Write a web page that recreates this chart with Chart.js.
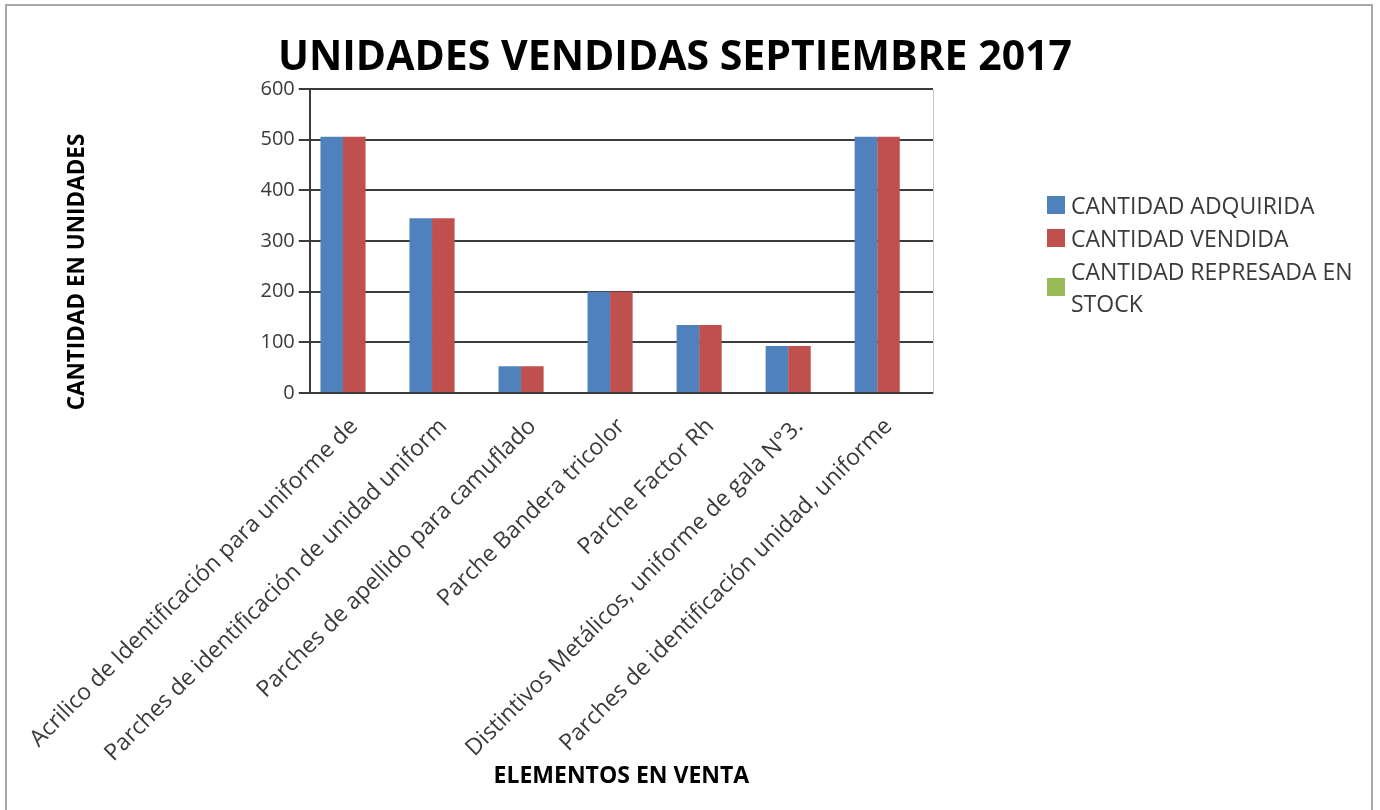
<!DOCTYPE html>
<html>
<head>
<meta charset="utf-8">
<script src="https://cdn.jsdelivr.net/npm/chart.js@4.4.0/dist/chart.umd.min.js"></script>
<style>
  html, body { margin: 0; padding: 0; background: #fff; }
  #wrap { position: relative; width: 1380px; height: 810px; overflow: hidden; font-family: 'Open Sans', sans-serif; }
  #frame { position: absolute; left: 5px; top: 4px; width: 1364px; height: 830px; border: 2px solid #a8a8a8; border-bottom: none; }
  #chart { position: absolute; left: 0; top: 0; }
  #title { position: absolute; left: 0; width: 1350px; top: 26px; text-align: center; font-weight: 700; font-size: 41px; line-height: 56px; color: #000; }
  #ytitle { position: absolute; left: 75px; top: 272px; transform: translate(-50%, -50%) rotate(-90deg); white-space: nowrap; font-weight: 700; font-size: 22.5px; color: #000; }
  #legend { position: absolute; left: 1047px; top: 189px; }
  .item { display: flex; align-items: center; margin-bottom: 1px; }
  .box { width: 18px; height: 18px; margin-right: 6px; flex: none; }
  .txt { font-size: 23px; line-height: 32px; color: #3a3a3a; width: 305px; }
</style>
</head>
<body>
<div id="wrap">
  <canvas id="chart" width="1380" height="810"></canvas>
  <div id="frame"></div>
  <div id="title"></div>
  <div id="ytitle"></div>
  <div id="legend"></div>
</div>
<script>
const chartTitle = 'UNIDADES VENDIDAS SEPTIEMBRE 2017';
const yTitle = 'CANTIDAD EN UNIDADES';
const xTitle = 'ELEMENTOS EN VENTA';

const categories = [
  'Acrilico de Identificación para uniforme de',
  'Parches de identificación de unidad uniform',
  'Parches de apellido para camuflado',
  'Parche Bandera tricolor',
  'Parche Factor Rh',
  'Distintivos Metálicos, uniforme de gala N°3.',
  'Parches de identificación unidad, uniforme',
];
const seriesNames = ['CANTIDAD ADQUIRIDA', 'CANTIDAD VENDIDA', 'CANTIDAD REPRESADA EN STOCK'];
const adquirida = [506, 345, 53, 200, 134, 93, 506];
const vendida = [506, 345, 53, 200, 134, 93, 506];
const represada = [0, 0, 0, 0, 0, 0, 0];
const yTicks = { min: 0, max: 600, step: 100 };

const colors = ['#4F81BD', '#C0504D', '#9BBB59'];
const gridColor = '#3c3c3c';
const font = "'Open Sans', sans-serif";

document.getElementById('title').textContent = chartTitle;
document.getElementById('ytitle').textContent = yTitle;

const chart = new Chart(document.getElementById('chart'), {
  type: 'bar',
  data: {
    labels: categories,
    datasets: [
      { label: seriesNames[0], data: adquirida, backgroundColor: colors[0] },
      { label: seriesNames[1], data: vendida, backgroundColor: colors[1] },
      { label: seriesNames[2], data: represada, backgroundColor: colors[2] },
    ]
  },
  options: {
    responsive: false,
    animation: false,
    layout: { padding: { left: 0, right: 447, top: 89, bottom: 0 } },
    datasets: { bar: { barPercentage: 1, categoryPercentage: 0.76 } },
    plugins: { legend: { display: false }, title: { display: false }, tooltip: { enabled: false } },
    scales: {
      x: {
        grid: { display: false },
        border: { display: true, color: gridColor, width: 2 },
        ticks: { color: '#3a3a3a', font: { size: 23, family: font }, minRotation: 45, maxRotation: 45, autoSkip: false, padding: 12 },
        title: { display: true, text: xTitle, color: '#000', font: { size: 23, weight: 'bold', family: font }, padding: { top: 0, bottom: 20 } },
        afterFit: (s) => { s.height = 417; }
      },
      y: {
        min: yTicks.min, max: yTicks.max,
        ticks: { stepSize: yTicks.step, color: '#3a3a3a', font: { size: 20, family: font }, padding: 4 },
        grid: { color: gridColor, lineWidth: 2, tickLength: 11 },
        border: { display: true, color: gridColor, width: 2 },
        afterFit: (s) => { s.width = 308; }
      },
      y2: {
        position: 'right', min: yTicks.min, max: yTicks.max,
        ticks: { display: false },
        grid: { drawOnChartArea: false, drawTicks: false },
        border: { display: true, color: '#c8c8c8', width: 1 },
        afterFit: (s) => { s.width = 0; }
      }
    }
  }
});

// legend built from the chart's datasets
const legend = document.getElementById('legend');
chart.data.datasets.forEach((ds) => {
  const item = document.createElement('div');
  item.className = 'item';
  const box = document.createElement('div');
  box.className = 'box';
  box.style.background = ds.backgroundColor;
  const txt = document.createElement('div');
  txt.className = 'txt';
  txt.textContent = ds.label;
  item.appendChild(box);
  item.appendChild(txt);
  legend.appendChild(item);
});
</script>
</body>
</html>
